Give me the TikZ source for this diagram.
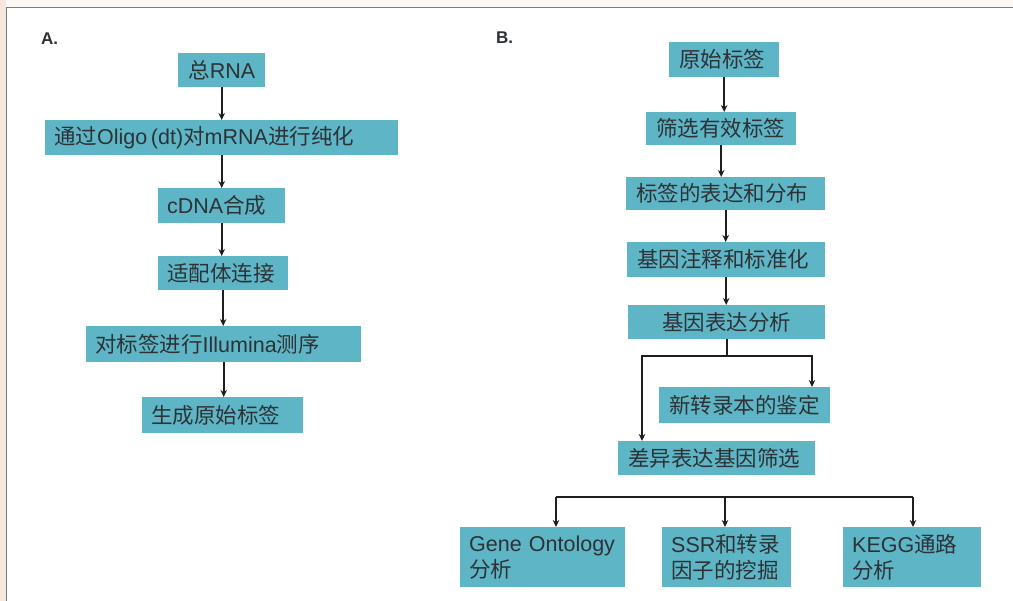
\documentclass[tikz,border=0pt]{standalone}
\usepackage{fontspec}
\setmainfont{Liberation Sans}
\newfontfamily\cjk{Noto Sans CJK SC}
\usetikzlibrary{arrows.meta}
\definecolor{boxteal}{HTML}{5EB5C6}
\definecolor{txtc}{HTML}{2E3236}
\definecolor{linec}{HTML}{1E1E1E}
\definecolor{framec}{HTML}{7A7A7A}
\definecolor{leftstrip}{HTML}{F6E7DC}
\definecolor{topstrip}{HTML}{FBF8F5}
\begin{document}
\begin{tikzpicture}[x=1pt,y=-1pt,
  box/.style={fill=boxteal, draw=none, text=txtc, font=\fontsize{21.5}{26}\selectfont,
    inner xsep=9pt, inner ysep=0pt, anchor=north west, align=left},
  boxb/.style={box, inner xsep=10pt},
  lbl/.style={font=\fontsize{17}{20}\selectfont\bfseries, text=txtc, inner sep=0pt, anchor=north west},
  arr/.style={draw=linec, line width=1.8pt, -{Stealth[length=7pt,width=6.5pt]}},
  ln/.style={draw=linec, line width=1.8pt},
]
\useasboundingbox (0,0) rectangle (1013,601);
% background and frame
\fill[white] (0,0) rectangle (1013,601);
\fill[leftstrip] (0,0) rectangle (6,601);
\fill[topstrip] (6,0) rectangle (1013,7);
\draw[framec, line width=1.5pt] (6.5,601) -- (6.5,7.5) -- (1013,7.5);

% Panel A
\node[lbl] (la) at (41,33) {A.};
\node[box, align=center, text width=69pt, minimum height=34pt] (a1) at (178,53) {{\cjk 总}RNA};
\node[box, text width=335pt, minimum height=35pt] (a2) at (45,120) {{\cjk 通过}Oligo\,(dt){\cjk 对}mRNA{\cjk 进行纯化}};
\node[box, text width=109pt, minimum height=35pt] (a3) at (158,188) {cDNA{\cjk 合成}};
\node[box, text width=112pt, minimum height=34pt] (a4) at (158,256) {{\cjk 适配体连接}};
\node[box, text width=257pt, minimum height=36pt] (a5) at (86,326) {{\cjk 对标签进行}Illumina{\cjk 测序}};
\node[box, text width=143pt, minimum height=36pt] (a6) at (142,397) {{\cjk 生成原始标签}};

\draw[arr] (a1.south) -- (a1.south |- a2.north);
\draw[arr] (a2.south) -- (a2.south |- a3.north);
\draw[arr] (a3.south) -- (a3.south |- a4.north);
\draw[arr] (a4.south) -- (a4.south |- a5.north);
\draw[arr] (a5.south) -- (a5.south |- a6.north);

% Panel B
\node[lbl] (lb) at (496,32) {B.};
\node[boxb, text width=90pt, minimum height=35pt] (b1) at (669,42) {{\cjk 原始标签}};
\node[boxb, text width=130pt, minimum height=33pt] (b2) at (646,112) {{\cjk 筛选有效标签}};
\node[boxb, text width=179pt, minimum height=33pt] (b3) at (626,177) {{\cjk 标签的表达和分布}};
\node[boxb, text width=178pt, minimum height=35pt] (b4) at (627,242) {{\cjk 基因注释和标准化}};
\node[boxb, align=center, text width=177pt, minimum height=34pt] (b5) at (628,305) {{\cjk 基因表达分析}};
\node[boxb, text width=151pt, minimum height=36pt] (b6) at (659,387) {{\cjk 新转录本的鉴定}};
\node[boxb, text width=177pt, minimum height=34pt] (b7) at (618,441) {{\cjk 差异表达基因筛选}};
\node[box, text width=147pt, minimum height=60pt] (c1) at (460,527) {Gene Ontology\\{\cjk 分析}};
\node[box, text width=111pt, minimum height=60pt] (c2) at (662,527) {SSR{\cjk 和转录}\\{\cjk 因子的挖掘}};
\node[box, text width=120pt, minimum height=60pt] (c3) at (843,527) {KEGG{\cjk 通路}\\{\cjk 分析}};

\draw[arr] (b1.south) -- (b1.south |- b2.north);
\draw[arr] (b2.south) -- (b2.south |- b3.north);
\draw[arr] (b3.south) -- (b3.south |- b4.north);
\draw[arr] (b4.south) -- (b4.south |- b5.north);

\coordinate (bl) at (642,356);
\coordinate (br) at (812,356);
\draw[ln] (b5.south) -- (b5.south |- bl);
\draw[arr] (b5.south |- bl) -- (bl) -- (bl |- b7.north);
\draw[arr] (b5.south |- br) -- (br) -- (br |- b6.north);

\coordinate (barL) at (556,497);
\coordinate (barM) at (725,497);
\coordinate (barR) at (913,497);
\draw[ln] (barL) -- (barR);
\draw[arr] (barL) -- (barL |- c1.north);
\draw[arr] (barM) -- (barM |- c2.north);
\draw[arr] (barR) -- (barR |- c3.north);
\end{tikzpicture}
\end{document}
